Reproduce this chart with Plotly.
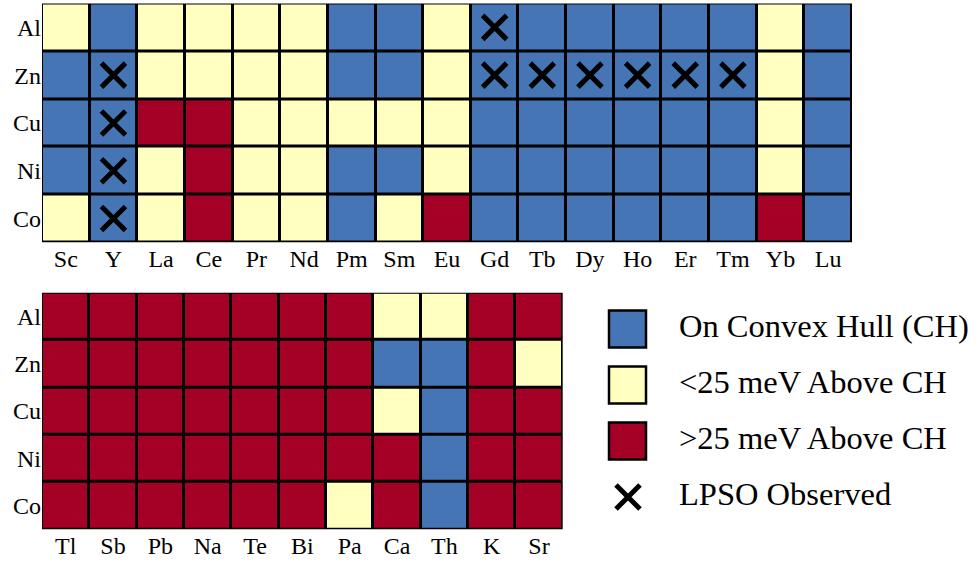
import plotly.graph_objects as go

rows = ["Al", "Zn", "Cu", "Ni", "Co"]
top_cols = ["Sc", "Y", "La", "Ce", "Pr", "Nd", "Pm", "Sm", "Eu", "Gd",
            "Tb", "Dy", "Ho", "Er", "Tm", "Yb", "Lu"]
# 0 = on convex hull, 1 = <25 meV above CH, 2 = >25 meV above CH
top_vals = [
    [1, 0, 1, 1, 1, 1, 0, 0, 1, 0, 0, 0, 0, 0, 0, 1, 0],
    [0, 0, 1, 1, 1, 1, 0, 0, 1, 0, 0, 0, 0, 0, 0, 1, 0],
    [0, 0, 2, 2, 1, 1, 1, 1, 1, 0, 0, 0, 0, 0, 0, 1, 0],
    [0, 0, 1, 2, 1, 1, 0, 0, 1, 0, 0, 0, 0, 0, 0, 1, 0],
    [1, 0, 1, 2, 1, 1, 0, 1, 2, 0, 0, 0, 0, 0, 0, 2, 0],
]
top_lpso_x = ["Gd", "Y", "Gd", "Tb", "Dy", "Ho", "Er", "Tm", "Y", "Y", "Y"]
top_lpso_y = ["Al", "Zn", "Zn", "Zn", "Zn", "Zn", "Zn", "Zn", "Cu", "Ni", "Co"]

bottom_cols = ["Tl", "Sb", "Pb", "Na", "Te", "Bi", "Pa", "Ca", "Th", "K", "Sr"]
bottom_vals = [
    [2, 2, 2, 2, 2, 2, 2, 1, 1, 2, 2],
    [2, 2, 2, 2, 2, 2, 2, 0, 0, 2, 1],
    [2, 2, 2, 2, 2, 2, 2, 1, 0, 2, 2],
    [2, 2, 2, 2, 2, 2, 2, 2, 0, 2, 2],
    [2, 2, 2, 2, 2, 2, 1, 2, 0, 2, 2],
]

legend_labels = ["On Convex Hull (CH)", "<25 meV Above CH", ">25 meV Above CH", "LPSO Observed"]

BLUE, YELLOW, RED = "#4575b4", "#ffffbf", "#a50026"
colorscale = [[0, BLUE], [0.3333, BLUE], [0.3334, YELLOW], [0.6666, YELLOW], [0.6667, RED], [1, RED]]
FONT = "Liberation Serif"
W, H = 976, 561

fig = go.Figure()

fig.add_trace(go.Heatmap(z=top_vals, x=top_cols, y=rows, zmin=0, zmax=2,
                         colorscale=colorscale, showscale=False, xgap=3, ygap=3,
                         hoverinfo="skip", xaxis="x", yaxis="y"))
fig.add_trace(go.Scatter(x=top_lpso_x, y=top_lpso_y, mode="markers",
                         marker=dict(symbol="x-thin", size=24, line=dict(width=5, color="black")),
                         hoverinfo="skip", showlegend=False, xaxis="x", yaxis="y"))
fig.add_trace(go.Heatmap(z=bottom_vals, x=bottom_cols, y=rows, zmin=0, zmax=2,
                         colorscale=colorscale, showscale=False, xgap=3, ygap=3,
                         hoverinfo="skip", xaxis="x2", yaxis="y2"))

# custom legend
leg_y0, leg_dy = 329, 56
leg_ys = [leg_y0 + i * leg_dy for i in range(len(legend_labels))]
fig.add_trace(go.Scatter(x=[627.5] * 3, y=leg_ys[:3], mode="markers",
                         marker=dict(symbol="square", size=37, color=[BLUE, YELLOW, RED],
                                     line=dict(width=2.5, color="black")),
                         hoverinfo="skip", showlegend=False, xaxis="x3", yaxis="y3"))
fig.add_trace(go.Scatter(x=[628], y=[leg_ys[3]], mode="markers",
                         marker=dict(symbol="x-thin", size=24, line=dict(width=5, color="black")),
                         hoverinfo="skip", showlegend=False, xaxis="x3", yaxis="y3"))
fig.add_trace(go.Scatter(x=[679] * 4, y=leg_ys, mode="text", text=legend_labels,
                         textposition="middle right",
                         textfont=dict(family=FONT, size=32.5, color="black"),
                         hoverinfo="skip", showlegend=False, xaxis="x3", yaxis="y3"))

tickfont = dict(family=FONT, size=24, color="black")
axcommon = dict(type="category", showgrid=False, zeroline=False, tickfont=tickfont,
                ticks="", fixedrange=True)
fig.update_layout(
    width=W, height=H, margin=dict(l=0, r=0, t=0, b=0),
    paper_bgcolor="white", plot_bgcolor="white", showlegend=False,
    xaxis=dict(axcommon, domain=[42 / W, 852 / W], range=[-0.5, len(top_cols) - 0.5], anchor="y"),
    yaxis=dict(axcommon, domain=[1 - 242.3 / H, 1 - 3.5 / H], range=[len(rows) - 0.5, -0.5], anchor="x"),
    xaxis2=dict(axcommon, domain=[42 / W, 562.7 / W], range=[-0.5, len(bottom_cols) - 0.5], anchor="y2"),
    yaxis2=dict(axcommon, domain=[1 - 529.3 / H, 1 - 292.7 / H], range=[len(rows) - 0.5, -0.5], anchor="x2"),
    xaxis3=dict(domain=[600 / W, 1], range=[600, W], visible=False, fixedrange=True, anchor="y3"),
    yaxis3=dict(domain=[0, 0.5], range=[H, H / 2], visible=False, fixedrange=True, anchor="x3"),
    shapes=[
        dict(type="rect", xref="x domain", yref="y domain", x0=0, x1=1, y0=0, y1=1,
             fillcolor="black", line=dict(width=0), layer="below"),
        dict(type="rect", xref="x2 domain", yref="y2 domain", x0=0, x1=1, y0=0, y1=1,
             fillcolor="black", line=dict(width=0), layer="below"),
    ],
)

fig.write_html("out.html")
